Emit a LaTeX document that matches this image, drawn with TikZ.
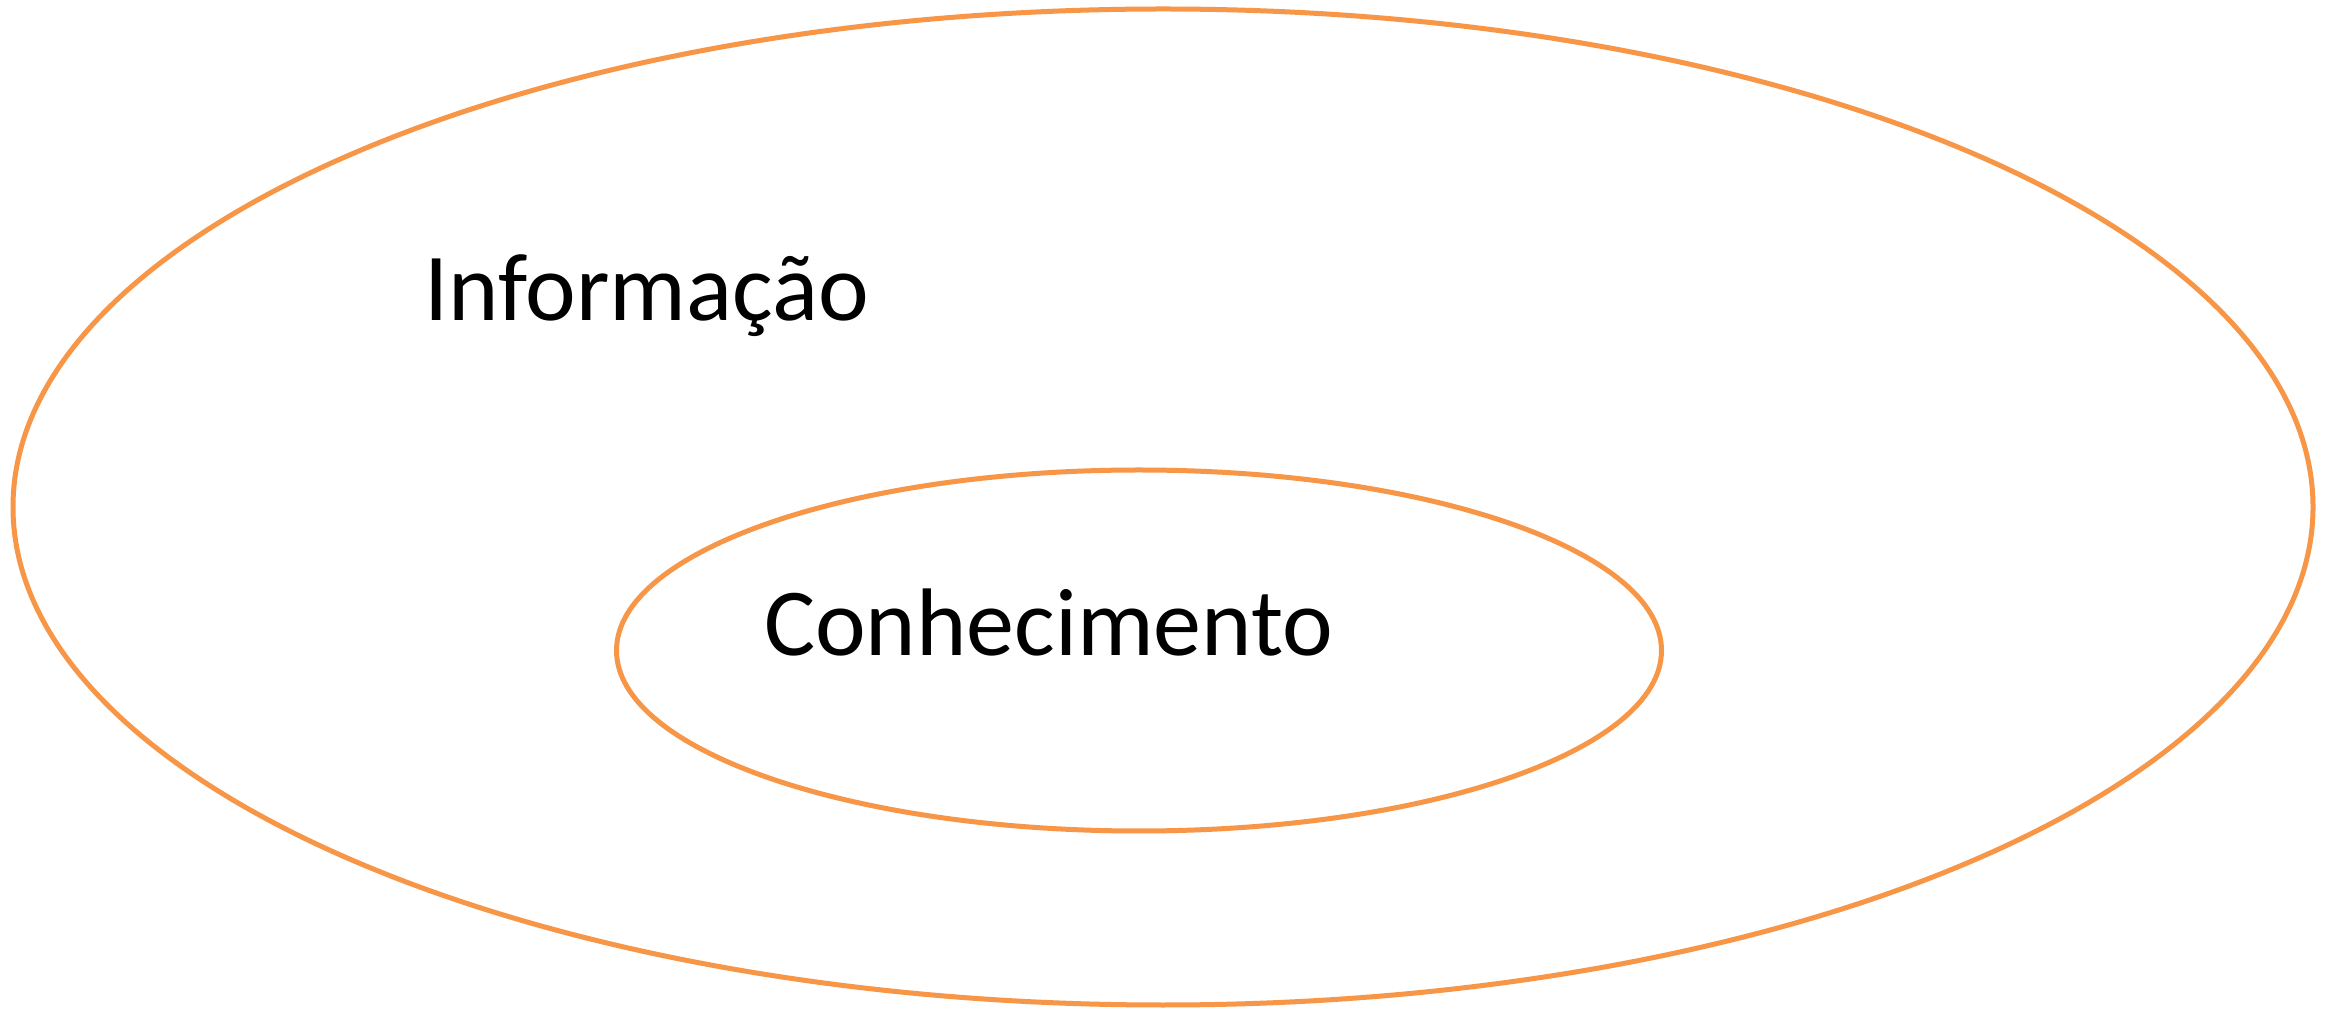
\documentclass[tikz,border=0pt]{standalone}
\usepackage{fontspec}
\setmainfont{Carlito}
\usetikzlibrary{shapes.geometric}
\definecolor{setorange}{HTML}{F79646}
\tikzset{
  setellipse/.style={ellipse, draw=setorange, line width=5pt, inner sep=0pt},
  setlabel/.style={anchor=base west, inner sep=0pt, font=\fontsize{96}{112}\selectfont}
}
\begin{document}
\begin{tikzpicture}[x=1pt,y=1pt]
\useasboundingbox[fill=white] (0,0) rectangle (2338,1010);
\node[setellipse, minimum width=2300pt, minimum height=996pt] (outer) at (1163,503) {};
\node[setellipse, minimum width=1045pt, minimum height=361pt] (inner) at (1139,359.5) {};
\node[setlabel] (info) at (424,689) {Informa\c{c}\~ao};
\node[setlabel] (conh) at (764,354) {Conhecimento};
\end{tikzpicture}
\end{document}
